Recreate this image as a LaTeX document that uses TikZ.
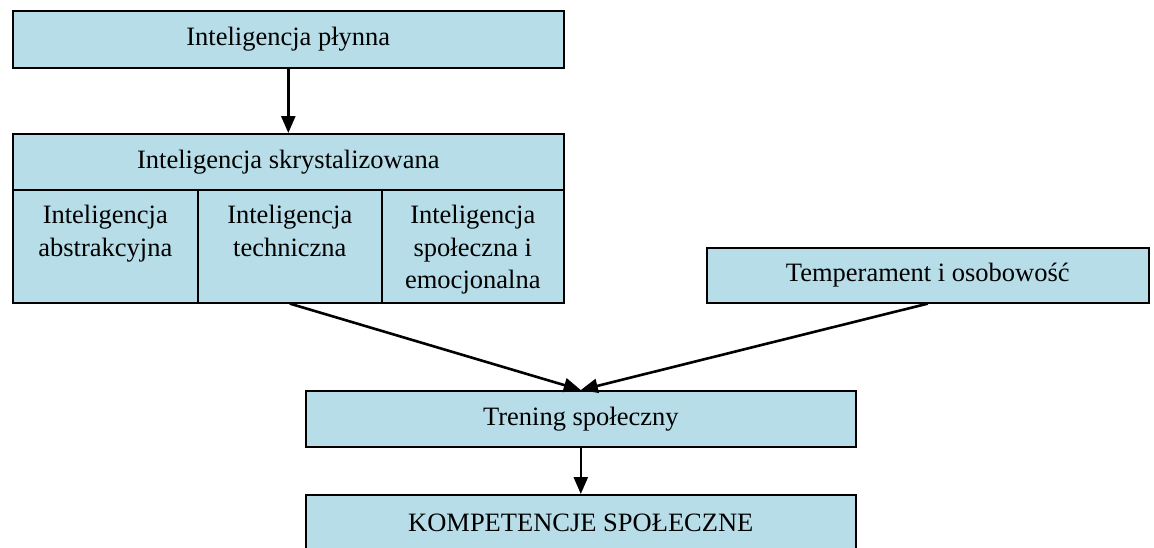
\documentclass[tikz,border=0pt]{standalone}
\usepackage{fontspec}
\setmainfont{Liberation Serif}
\usetikzlibrary{arrows.meta,positioning}
\definecolor{boxfill}{HTML}{B7DDE8}
\begin{document}
\begin{tikzpicture}[x=1pt,y=-1pt,
  box/.style={draw=black, line width=1.6pt, fill=boxfill, inner sep=0pt,
              anchor=north west, font=\fontsize{26.5}{32}\selectfont},
  celltext/.style={inner sep=0pt, align=center, font=\fontsize{26.5}{32.5}\selectfont},
  conn/.style={line width=2.6pt, -{Triangle[length=17pt,width=14pt]}}]
\useasboundingbox (0,0) rectangle (1154,547);
\clip (0,0) rectangle (1154,547);

% top: fluid intelligence
\node[box, minimum width=551pt, minimum height=57pt] (fluid) at (12,10) {Inteligencja płynna};

% crystallized intelligence with its three components
\node[box, minimum width=551pt, minimum height=56pt] (cryst) at (12,133) {Inteligencja skrystalizowana};
\node[box, minimum width=185pt, minimum height=113pt] (abs) at (12,189) {};
\node[box, minimum width=184pt, minimum height=113pt] (tech) at (197,189) {};
\node[box, minimum width=182pt, minimum height=113pt] (soc) at (381,189) {};
\node[celltext, below=16pt of abs.north] (abstxt) {Inteligencja\\abstrakcyjna};
\node[celltext, below=16pt of tech.north] (techtxt) {Inteligencja\\techniczna};
\node[celltext, below=16pt of soc.north] (soctxt) {Inteligencja\\społeczna i\\emocjonalna};

% temperament
\node[box, minimum width=442pt, minimum height=55pt] (temper) at (706,247) {Temperament i osobowość};

% social training and competences
\node[box, minimum width=550pt, minimum height=56pt] (train) at (305,390) {Trening społeczny};
\node[box, minimum width=550pt, minimum height=56pt] (comp) at (305,494) {KOMPETENCJE SPOŁECZNE};

% connectors
\draw[conn] (fluid.south) -- (cryst.north);
\draw[conn] (tech.south) -- (train.north);
\draw[conn] (temper.south) -- (train.north);
\draw[conn] (train.south) -- (comp.north);
\end{tikzpicture}
\end{document}
